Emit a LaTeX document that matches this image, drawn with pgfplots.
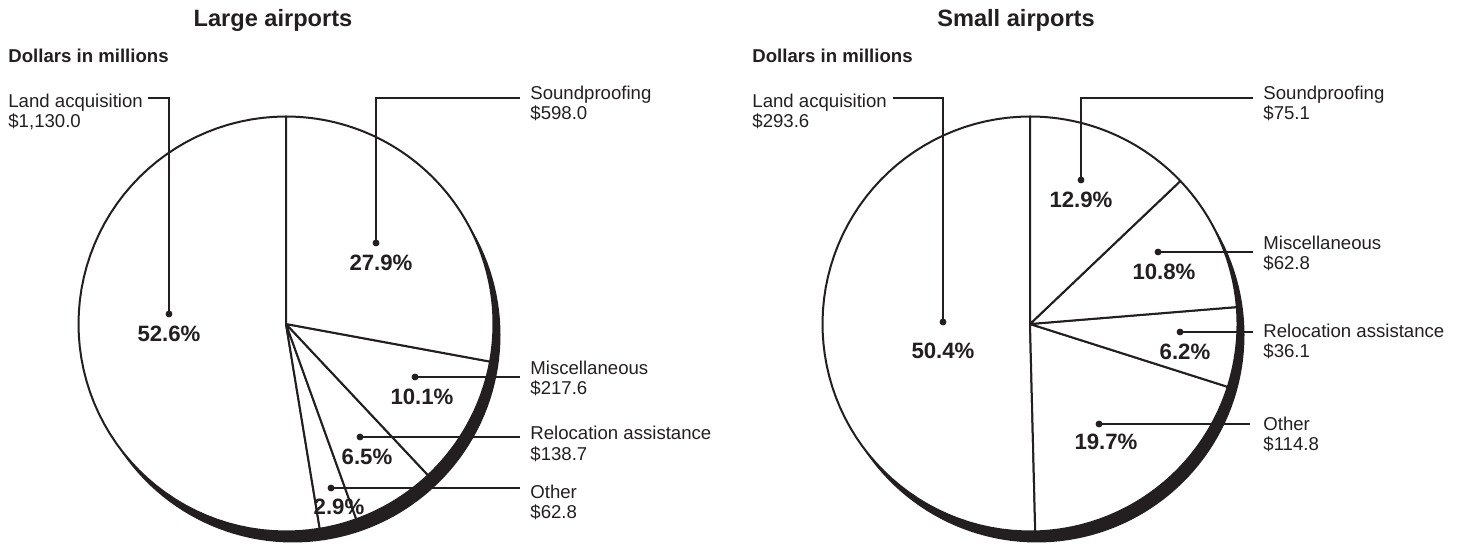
\documentclass[border=0pt]{standalone}
\usepackage{pgfplots}
\pgfplotsset{compat=1.18}
\usepackage{fontspec}
\setmainfont{Liberation Sans}
\definecolor{ink}{HTML}{231F20}

\newcommand\lfont{\fontsize{9.3}{10}\selectfont}
\newcommand\pfont{\fontsize{11.1}{12}\selectfont\bfseries}
\newcommand\tfont{\fontsize{11.8}{13}\selectfont\bfseries}

% #1 = centre x, #2 = centre y (pixels, y downwards), #3 = list of shares in percent
\newcommand\drawpie[3]{%
  \addplot[fill=ink, draw=none, domain=0:360, samples=160] ({#1+7+207.5*cos(x)},{#2+11-207.5*sin(x)}) -- cycle;
  \xdef\angA{90}%
  \foreach \p in {#3}{%
    \pgfmathsetmacro\angB{\angA+3.6*\p}%
    \edef\doplot{\noexpand\addplot[draw=ink, line width=1pt, line join=round, fill=white, domain=\angA:\angB, samples=60] ({#1+207.5*cos(x)},{#2-207.5*sin(x)}) -- (axis cs:#1,#2) -- cycle;}%
    \doplot
    \xdef\angA{\angB}%
  }%
}
\newcommand\lab[5]{% x, baseline1, baseline2, line1, line2
  \node[anchor=base west, font=\lfont, text=ink, inner sep=0pt] at (axis cs:#1,#2) {#4};
  \node[anchor=base west, font=\lfont, text=ink, inner sep=0pt] at (axis cs:#1,#3) {#5};
}
\newcommand\pct[3]{\node[font=\pfont, text=ink, inner sep=0pt] at (axis cs:#1,#2) {#3};}

\begin{document}
\begin{tikzpicture}
\begin{axis}[x=0.5pt, y=0.5pt, xmin=0, xmax=1460, ymin=0, ymax=544,
  y dir=reverse, hide axis, clip=false, enlargelimits=false, scale only axis]
\path (axis cs:0,0) rectangle (axis cs:1460,544);

% ---------- Large airports ----------
% Land acquisition, Other, Relocation assistance, Miscellaneous, Soundproofing
\drawpie{286}{324}{52.6,2.9,6.5,10.1,27.9}
\addplot[ink, line width=0.7pt] coordinates {(148,98) (169,98) (169,314)};
\addplot[ink, line width=0.7pt] coordinates {(520,98) (376,98) (376,243)};
\addplot[ink, line width=0.7pt] coordinates {(415,377) (520,377)};
\addplot[ink, line width=0.7pt] coordinates {(360,437) (520,437)};
\addplot[ink, line width=0.7pt] coordinates {(331,488) (520,488)};
\addplot[ink, only marks, mark=*, mark size=1.5pt] coordinates {(169,314) (376,243) (415,377) (360,437) (331,488)};

\node[font=\tfont, text=ink, anchor=base, inner sep=0pt] at (axis cs:273,27) {Large airports};
\node[font=\lfont\bfseries, text=ink, anchor=base west, inner sep=0pt] at (axis cs:8,63) {Dollars in millions};
\lab{8}{108}{128}{Land acquisition}{\$1,130.0}
\lab{530}{100}{120}{Soundproofing}{\$598.0}
\lab{530}{375}{395}{Miscellaneous}{\$217.6}
\lab{530}{440}{460}{Relocation assistance}{\$138.7}
\lab{530}{498}{518}{Other}{\$62.8}
\pct{169}{334}{52.6\%}
\pct{381}{263}{27.9\%}
\pct{422}{397}{10.1\%}
\pct{367}{457}{6.5\%}
\pct{339}{507}{2.9\%}

% ---------- Small airports ----------
\drawpie{1030}{324}{50.4,19.7,6.2,10.8,12.9}
\addplot[ink, line width=0.7pt] coordinates {(893,98) (943,98) (943,322)};
\addplot[ink, line width=0.7pt] coordinates {(1253,98) (1081,98) (1081,180)};
\addplot[ink, line width=0.7pt] coordinates {(1158,252) (1253,252)};
\addplot[ink, line width=0.7pt] coordinates {(1180,332) (1253,332)};
\addplot[ink, line width=0.7pt] coordinates {(1099,424) (1250,424)};
\addplot[ink, only marks, mark=*, mark size=1.5pt] coordinates {(943,322) (1081,180) (1158,252) (1180,332) (1099,424)};

\node[font=\tfont, text=ink, anchor=base, inner sep=0pt] at (axis cs:1016,27) {Small airports};
\node[font=\lfont\bfseries, text=ink, anchor=base west, inner sep=0pt] at (axis cs:752,63) {Dollars in millions};
\lab{752}{108}{128}{Land acquisition}{\$293.6}
\lab{1263}{100}{120}{Soundproofing}{\$75.1}
\lab{1263}{250}{270}{Miscellaneous}{\$62.8}
\lab{1263}{338}{358}{Relocation assistance}{\$36.1}
\lab{1263}{431}{451}{Other}{\$114.8}
\pct{943}{351}{50.4\%}
\pct{1081}{200}{12.9\%}
\pct{1164}{272}{10.8\%}
\pct{1185}{352}{6.2\%}
\pct{1106}{442}{19.7\%}
\end{axis}
\end{tikzpicture}
\end{document}
